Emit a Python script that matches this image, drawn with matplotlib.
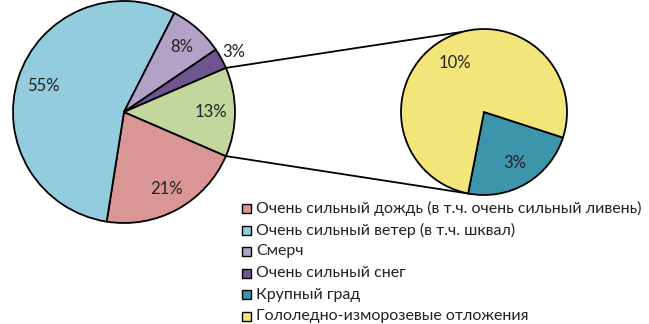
import numpy as np
import matplotlib
matplotlib.use("Agg")
import matplotlib.pyplot as plt

# Share of dangerous weather events, %
main_labels = ["Очень сильный дождь (в т.ч. очень сильный ливень)",
               "Очень сильный ветер (в т.ч. шквал)",
               "Смерч",
               "Очень сильный снег"]
main_values = [21, 55, 8, 3]
other_labels = ["Крупный град", "Гололедно-изморозевые отложения"]
other_values = [3, 10]

main_colors = ["#d99694", "#93cddd", "#b3a2c7", "#6e5790"]
other_colors = ["#3d95ab", "#f2e67a"]
other_color_main = "#c3d69b"

plt.rcParams["font.family"] = ["Lato", "DejaVu Sans"]

W, H = 649, 324
fig = plt.figure(figsize=(W / 100, H / 100), dpi=100)
ax = fig.add_axes([0, 0, 1, 1])

c1, r1 = (124, H - 112), 111
c2, r2 = (484, H - 112), 83

other_total = sum(other_values)
vals1 = main_values + [other_total]
cols1 = main_colors + [other_color_main]
# "other" wedge centred on the right-hand side, wedges go clockwise from it
start1 = -other_total / sum(vals1) * 360 / 2
wprops = dict(edgecolor="black", linewidth=1.3)
w1, _ = ax.pie(vals1, colors=cols1, startangle=start1, counterclock=False,
               center=c1, radius=r1, wedgeprops=wprops, frame=True)

# secondary pie: small slice centred at lower right
teal_span = other_values[0] / other_total * 360
start2 = -59.5 + teal_span / 2
w2, _ = ax.pie(other_values, colors=other_colors, startangle=start2,
               counterclock=False, center=c2, radius=r2,
               wedgeprops=wprops, frame=True)

def put_label(wedge, val, dist, center, radius):
    mid = np.deg2rad((wedge.theta1 + wedge.theta2) / 2)
    x = center[0] + dist * radius * np.cos(mid)
    y = center[1] + dist * radius * np.sin(mid)
    ax.text(x, y, f"{val:.0f}%", ha="center", va="center",
            fontsize=12, color="#222222")

dists1 = [0.79, 0.76, 0.78, 1.13, 0.78]
for w, v, d in zip(w1, vals1, dists1):
    put_label(w, v, d, c1, r1)
dists2 = [0.72, 0.68]
for w, v, d in zip(w2, other_values, dists2):
    put_label(w, v, d, c2, r2)

# connector lines between the "other" wedge and the secondary pie
wo = w1[-1]
a_top = np.deg2rad(max(wo.theta1, wo.theta2))
a_bot = np.deg2rad(min(wo.theta1, wo.theta2))
p_top = (c1[0] + r1 * np.cos(a_top), c1[1] + r1 * np.sin(a_top))
p_bot = (c1[0] + r1 * np.cos(a_bot), c1[1] + r1 * np.sin(a_bot))
q_top = (c2[0] + r2 * np.cos(np.deg2rad(105)), c2[1] + r2 * np.sin(np.deg2rad(105)))
q_bot = (c2[0] + r2 * np.cos(np.deg2rad(-100)), c2[1] + r2 * np.sin(np.deg2rad(-100)))
ax.plot([p_top[0], q_top[0]], [p_top[1], q_top[1]], color="black", lw=1.3, zorder=0)
ax.plot([p_bot[0], q_bot[0]], [p_bot[1], q_bot[1]], color="black", lw=1.3, zorder=0)

# legend
leg_labels = main_labels + other_labels
leg_colors = main_colors + other_colors
for i, (lab, col) in enumerate(zip(leg_labels, leg_colors)):
    y = H - (208.5 + i * 21.5)
    ax.add_patch(plt.Rectangle((242, y - 4.5), 9, 9, facecolor=col,
                               edgecolor="black", linewidth=1.0))
    ax.text(256, y, lab, ha="left", va="center", fontsize=11.5, color="#222222")

ax.set_xlim(0, W)
ax.set_ylim(0, H)
ax.set_aspect("equal")
ax.axis("off")

fig.savefig("out.png", dpi=100, facecolor="white")
